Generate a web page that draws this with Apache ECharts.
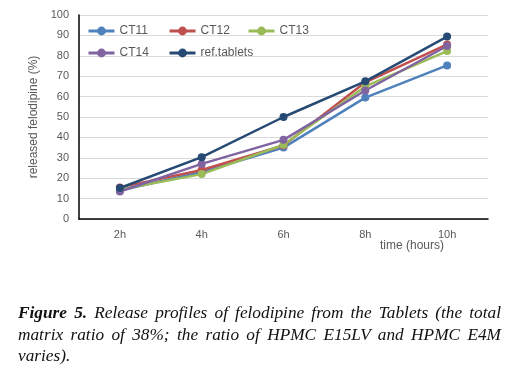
<!DOCTYPE html>
<html><head><meta charset="utf-8">
<script src="https://cdn.jsdelivr.net/npm/echarts@6/dist/echarts.min.js"></script>
<style>
html,body{margin:0;padding:0;background:#fff;}
#c{position:absolute;left:0;top:0;width:531px;height:381px;}
#cap{position:absolute;left:18px;top:302px;width:483px;font-family:"Liberation Serif","DejaVu Serif",serif;font-style:italic;font-size:17.3px;line-height:21.5px;text-align:justify;color:#111;}
</style></head>
<body>
<div id="c"></div>
<div id="cap"><b>Figure 5.</b> Release profiles of felodipine from the Tablets (the total matrix ratio of 38%; the ratio of HPMC E15LV and HPMC E4M varies).</div>
<script>
const categories = ['2h','4h','6h','8h','10h'];
const seriesNames = ['CT11','CT12','CT13','CT14','ref.tablets'];
const CT11 = [14.0, 23.0, 35.0, 59.5, 75.3];
const CT12 = [15.5, 24.0, 36.0, 67.0, 85.6];
const CT13 = [14.5, 22.0, 36.4, 65.0, 82.3];
const CT14 = [13.5, 27.0, 38.8, 63.0, 84.8];
const REF  = [15.2, 30.3, 50.0, 67.5, 89.4];
const yTicks = [0,10,20,30,40,50,60,70,80,90,100];
const colors = ['#4F81BD','#C0504D','#9BBB59','#8064A2','#264A73'];
const values = [CT11, CT12, CT13, CT14, REF];

const chart = echarts.init(document.getElementById('c'), null, {renderer:'canvas'});
const series = seriesNames.map((n,i)=>({
  name:n, type:'line', data:values[i], symbol:'circle', symbolSize:8,
  lineStyle:{width:2.5,color:colors[i]}, itemStyle:{color:colors[i]},
  z: i===4?5:2
}));
const legText = {color:'#595959',fontSize:12,fontFamily:'Liberation Sans'};
const legPos = [[87,25],[168,25],[247,25],[87,47],[168,47]];
const legends = seriesNames.map((n,i)=>({
  data:[n], left:legPos[i][0], top:legPos[i][1], padding:0,
  itemWidth:26, itemHeight:11, textStyle:legText,
  lineStyle:{width:3}
}));
chart.setOption({
  animation:false,
  color:colors,
  grid:{left:79,right:43,top:15,bottom:162},
  legend:legends,
  xAxis:{type:'category',data:categories,boundaryGap:true,
    axisLine:{lineStyle:{color:'#000',width:1.5}},axisTick:{show:false},
    axisLabel:{color:'#595959',fontSize:11,margin:10,fontFamily:'Liberation Sans'}},
  yAxis:{type:'value',min:yTicks[0],max:yTicks[yTicks.length-1],interval:10,
    name:'released felodipine (%)',nameLocation:'middle',nameRotate:90,nameGap:38,
    nameTextStyle:{color:'#595959',fontSize:12,fontFamily:'Liberation Sans'},
    axisLine:{show:true,lineStyle:{color:'#000',width:1.5}},axisTick:{show:false},
    splitLine:{lineStyle:{color:'#D9D9D9',width:1}},
    axisLabel:{color:'#595959',fontSize:11,margin:10,fontFamily:'Liberation Sans'}},
  graphic:[{type:'text',left:380,top:240,style:{text:'time (hours)',fill:'#595959',font:'12px "Liberation Sans"'}}],
  series:series
});
</script>
</body></html>
